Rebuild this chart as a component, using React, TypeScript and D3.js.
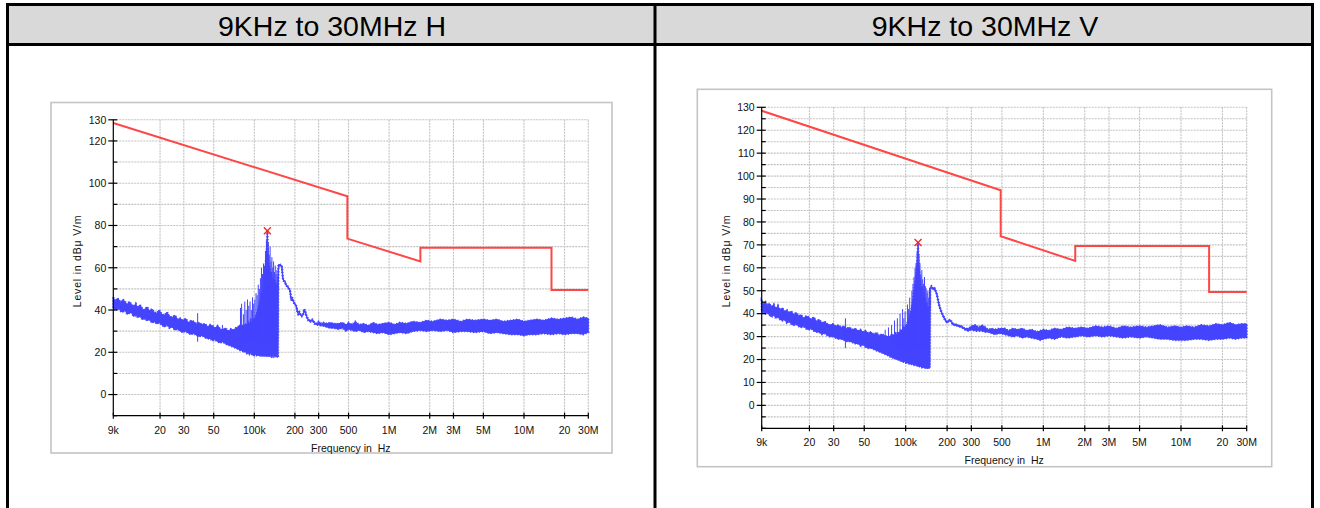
import React from 'react';
import * as d3 from 'd3';

// frequencies in kHz
const xTickKHz = [9, 20, 30, 50, 100, 200, 300, 500, 1000, 2000, 3000, 5000, 10000, 20000, 30000];
const xTickLabels = ['9k', '20', '30', '50', '100k', '200', '300', '500', '1M', '2M', '3M', '5M', '10M', '20', '30M'];

const limitKHz = [9, 490, 490, 1705, 1705, 16000, 16000, 30000];
const limitLevel = [128.5, 93.8, 73.8, 63, 69.5, 69.5, 49.5, 49.5];

const yLabelsH = [0, 20, 40, 60, 80, 100, 120, 130];
const yLabelsV = [0, 10, 20, 30, 40, 50, 60, 70, 80, 90, 100, 110, 120, 130];

const titles = ['9KHz to 30MHz H', '9KHz to 30MHz V'];

const peakH = [125, 77.5];
const peakV = [123, 71];

// [kHz, upper, lower] in dBuV/m
const traceH: [number, number, number][] = [
  [9, 46, 41], [9.3, 44, 40.5], [9.6, 45.5, 40], [9.9, 45, 41], [10.2, 43.5, 39.5],
  [10.6, 45, 39], [11, 44, 40], [11.4, 42.5, 38], [11.8, 44, 38.5], [12.2, 43, 39],
  [12.7, 41.5, 37], [13.2, 43, 37.5], [13.7, 41, 36.5], [14.2, 42.5, 37], [14.8, 40.5, 35.5],
  [15.4, 40, 36], [16, 41.5, 35], [16.7, 39.5, 35.5], [17.4, 40.5, 34], [18.1, 39, 34.5],
  [18.9, 38.5, 33.5], [19.7, 40, 34], [20.6, 38, 33], [21.5, 37.5, 32], [22.5, 39, 33],
  [23.5, 37, 31.5], [24.6, 36.5, 32], [25.8, 37.5, 30.5], [27, 35.5, 31], [28.3, 36, 30],
  [29.6, 35, 29.5], [31, 36, 30], [32.5, 34, 29], [34, 35, 28.5], [35.6, 34.5, 29],
  [37.3, 33.5, 28], [39, 34, 27.5], [41, 33, 28], [43, 33.5, 27], [45, 32, 26.5],
  [47, 33, 26.5], [49, 32.5, 25.5], [51, 31.5, 26], [53.5, 32.5, 25], [56, 31, 24.5],
  [58.5, 30.5, 25], [61, 31.5, 24], [64, 30, 23.5], [67, 31, 23], [70, 30.5, 22.5],
  [73, 31.5, 22], [76, 32, 21.5], [78, 33, 21], [80, 32, 21], [82, 33, 20.5],
  [84, 32, 20], [86, 33.5, 20.5], [88, 33, 19.5], [90, 34, 19.5], [92, 33, 19],
  [94, 35, 19.5], [96, 34, 19], [98, 36, 18.5], [100, 35, 18.5], [102, 37, 19],
  [104, 38, 18.5], [106, 40, 18.5], [108, 42, 18.5], [110, 44, 18.5], [112, 47, 18],
  [114, 46, 18.5], [116, 50, 18], [118, 52, 18.5], [120, 58, 18], [122, 64, 18.5],
  [124, 70, 18], [125, 77.5, 18.5], [126, 68, 18], [128, 62, 18.5], [130, 60, 18],
  [132, 56, 18.5], [134, 58, 18], [136, 54, 18.5], [138, 55, 18], [140, 52, 18.5],
  [142, 54, 18], [144, 51, 18], [146, 52, 18.5], [148, 50, 17.5], [150, 53, 18],
  [151, 61.5, 60.5], [155, 61.5, 61], [160, 61, 60.5], [163, 55, 54.5], [166, 54, 53.5],
  [169, 53.5, 53], [172, 52, 51.5], [176, 51.5, 51], [180, 50.5, 50], [184, 49.5, 49],
  [188, 45, 44.5], [192, 45.5, 45], [196, 44, 43.5], [200, 43, 42.5], [204, 42.5, 42],
  [208, 40, 39.5], [212, 38.5, 38], [216, 39, 38.5], [220, 38, 37.5], [225, 37.5, 37],
  [230, 38, 37.5], [235, 40.5, 40], [240, 39, 38.5], [245, 37, 36.5], [252, 35.5, 35],
  [260, 35, 34.5], [270, 35.5, 35], [280, 34, 33.5], [291, 33.5, 33], [300, 34.5, 33],
  [315, 33.5, 32.5], [327, 34, 32.5], [345, 33.5, 32], [365, 34, 31.5], [390, 33.5, 31.5],
  [420, 33.5, 31], [450, 34, 31.5], [480, 33, 30],
  [500, 34, 31], [530, 33, 30.5], [560, 34.5, 30], [600, 33, 30.5], [650, 33.5, 29.5],
  [700, 32.5, 30], [760, 34, 29.5], [820, 33, 29], [900, 33.5, 29.5], [1000, 34, 28.5],
  [1100, 33, 29], [1200, 34, 29.5], [1350, 33.5, 29], [1500, 34.5, 30], [1700, 34, 30.5],
  [1900, 35, 30], [2100, 34.5, 30.5], [2400, 35.5, 30], [2700, 35, 30.5], [3000, 35.5, 29.5],
  [3400, 34.5, 30], [3800, 35.5, 30], [4300, 35, 29.5], [5000, 35.5, 30], [5600, 35, 29],
  [6300, 35.5, 29.5], [7000, 34.5, 29], [8000, 35, 28.5], [9000, 35.5, 28.5], [10000, 34.5, 28],
  [11000, 35, 28.5], [12500, 35.5, 28.5], [14000, 35, 29], [16000, 36, 28.5], [18000, 35.5, 29],
  [20000, 36, 28.5], [22500, 36.5, 29], [25000, 35.5, 29], [27500, 36.5, 28.5], [30000, 36, 29.5],
];

// narrow peaks rising out of the band: [kHz, level]
const spikesH: [number, number][] = [
  [38, 38.5], [58, 33], [79, 41], [80.5, 43], [83, 38], [85, 44], [87, 40], [89, 45],
  [91, 42], [93, 44], [95, 40], [97, 46], [99, 43], [101, 45], [103, 48], [105, 47],
  [107, 52], [109, 50], [111, 55], [113, 60], [115, 57], [117, 62], [119, 61], [121, 68],
  [123, 73], [127, 72], [129, 66], [131, 70], [133, 63], [135, 65], [137, 60], [139, 63],
  [141, 58], [143, 61], [145, 57], [147, 59], [149, 56],
];

const traceV: [number, number, number][] = [
  [9, 45.5, 41], [9.3, 44, 40.5], [9.6, 45, 40], [9.9, 43.5, 40.5], [10.2, 44.5, 39.5],
  [10.6, 43, 38.5], [11, 44, 39.5], [11.4, 42, 38], [11.8, 43.5, 38.5], [12.2, 41.5, 37.5],
  [12.7, 42.5, 37], [13.2, 41, 37.5], [13.7, 41.5, 36], [14.2, 40.5, 36.5], [14.8, 41, 35.5],
  [15.4, 39.5, 35], [16, 40.5, 35.5], [16.7, 39, 34.5], [17.4, 39.5, 34], [18.1, 38, 34.5],
  [18.9, 39, 33.5], [19.7, 38.5, 33], [20.6, 37.5, 33.5], [21.5, 38.5, 32.5], [22.5, 36.5, 32],
  [23.5, 37.5, 32], [24.6, 36, 31], [25.8, 36.5, 31.5], [27, 35.5, 30.5], [28.3, 35, 30],
  [29.6, 35.5, 30], [31, 34.5, 29.5], [32.5, 35, 29], [34, 34, 29], [35.6, 34.5, 28.5],
  [37.3, 33.5, 28], [39, 34, 28], [41, 33, 27.5], [43, 33.5, 27], [45, 32.5, 27],
  [47, 33, 26], [49, 32, 26.5], [51, 32.5, 25.5], [53.5, 31.5, 25], [56, 32, 25],
  [58.5, 31, 24.5], [61, 31.5, 24], [64, 30.5, 23.5], [67, 31, 23], [70, 30.5, 22.5],
  [73, 30, 22], [76, 30, 21.5], [78, 30.5, 21], [80, 31, 21], [82, 30.5, 20.5],
  [84, 31.5, 20.5], [86, 31, 20], [88, 32, 20], [90, 31.5, 19.5], [92, 33, 19.5],
  [94, 32.5, 19], [96, 34, 19], [98, 33.5, 19], [100, 35, 18.5], [102, 35, 18.5],
  [104, 37, 18.5], [106, 38, 18], [108, 40, 18], [110, 42, 18], [112, 45, 18],
  [114, 48, 17.5], [116, 52, 17.5], [118, 55, 17.5], [120, 60, 17.5], [122, 65, 17],
  [123, 71, 17], [124, 64, 17], [126, 58, 17], [128, 54, 17], [130, 50, 16.5],
  [132, 52, 16.5], [134, 48, 16.5], [136, 46, 16.5], [138, 47, 16.5], [140, 44, 16],
  [142, 45, 16.5], [144, 42, 16], [146, 43, 16.5], [148, 40, 16], [150, 42, 17],
  [151, 51.5, 51], [154, 52, 51.5], [158, 51, 50.5], [162, 51.5, 51], [165, 50, 49.5],
  [168, 49, 48.5], [172, 46, 45.5], [175, 44, 43.5], [178, 42.5, 42], [182, 41, 40.5],
  [188, 39, 38.5], [194, 37.5, 37], [199, 36.5, 36], [204, 37, 36.5], [210, 37.5, 37],
  [216, 36.5, 36], [222, 35.5, 35], [228, 35.5, 35], [240, 35, 34.5], [256, 34.5, 34],
  [270, 33.5, 33], [285, 33.5, 32.5], [300, 34.5, 33], [320, 35, 32.5], [340, 34, 32.5],
  [358, 35, 32.5], [380, 34, 32], [399, 33, 32], [420, 33.5, 31.5], [446, 33, 31],
  [480, 33.5, 31.5],
  [526, 33.5, 31], [560, 32.5, 30.5], [600, 33.5, 30], [650, 33, 30.5], [700, 33.5, 29.5],
  [760, 32.5, 30], [820, 33, 29.5], [900, 32, 29], [950, 32.5, 28.5], [1000, 33, 29],
  [1100, 32.5, 29.5], [1200, 33.5, 29], [1350, 33, 30], [1500, 34, 29.5], [1700, 33.5, 30],
  [1900, 34, 30.5], [2100, 33.5, 30], [2400, 34.5, 30.5], [2700, 34, 30], [3000, 34.5, 30.5],
  [3400, 33.5, 30], [3800, 34.5, 29.5], [4300, 34, 30], [5000, 34.5, 29.5], [5600, 34, 30],
  [6300, 34.5, 29.5], [7000, 35, 29], [8000, 34, 29], [9000, 34.5, 28.5], [10000, 34, 28.5],
  [11000, 34.5, 28.5], [12500, 34, 29], [14000, 35, 29], [16000, 34.5, 28.5], [18000, 35.5, 29],
  [20000, 35, 29], [22500, 36, 29.5], [25000, 35, 29], [27500, 35.5, 29.5], [30000, 35.5, 29.5],
];

const spikesV: [number, number][] = [
  [36.5, 38], [62, 32], [71, 33], [75, 34], [79, 35], [83, 37], [87, 38], [91, 40],
  [95, 42], [97, 38], [99, 41], [103, 44], [105, 42], [107, 47], [111, 50], [113, 53],
  [115, 56], [117, 60], [119, 62], [121, 67], [125, 66], [127, 62], [129, 57], [131, 59],
  [133, 55], [135, 53], [137, 56], [139, 52], [141, 51], [143, 49], [145, 50], [147, 47],
  [149, 51],
];

const FONT = 'Arial, "Liberation Sans", sans-serif';
const BLUE = '#4444ff';
const RED = '#ff4646';

type Box = { left: number; right: number; top: number; bottom: number };

function Chart({ frame, plot, trace, spikes, peak, yStep, yLabels }: {
  frame: Box; plot: Box; trace: [number, number, number][]; spikes: [number, number][];
  peak: number[]; yStep: number; yLabels: number[];
}) {
  const x = d3.scaleLog().domain([9, 30000]).range([plot.left, plot.right]);
  const y = d3.scaleLinear().domain([-10, 130]).range([plot.bottom, plot.top]);
  const yTicks = d3.range(-10, 130.001, yStep);

  const band = d3.area<[number, number, number]>()
    .x(d => x(d[0]))
    .y0(d => y(d[2]))
    .y1(d => y(d[1]));
  const limit = d3.line<number>()
    .x((_, i) => x(limitKHz[i]))
    .y(d => y(d));

  const px = x(peak[0]);
  const py = y(peak[1]);

  return (
    <g>
      <rect x={frame.left} y={frame.top} width={frame.right - frame.left} height={frame.bottom - frame.top}
        fill="#fff" stroke="#c4c4c4" strokeWidth={1.6} />

      {yTicks.slice(1).map(t => (
        <line key={'gy' + t} x1={plot.left} x2={plot.right} y1={y(t)} y2={y(t)}
          stroke="#c2c2c2" strokeWidth={1.1} strokeDasharray="2 1" />
      ))}
      {xTickKHz.slice(1).map(f => (
        <line key={'gx' + f} x1={x(f)} x2={x(f)} y1={plot.top} y2={plot.bottom}
          stroke="#c2c2c2" strokeWidth={1.1} strokeDasharray="2 1" />
      ))}

      <path d={band(trace) || ''} fill={BLUE} stroke={BLUE} strokeWidth={1} strokeLinejoin="round" />
      <path d={band(trace) || ''} fill="none" stroke={BLUE} strokeWidth={2.2} strokeDasharray="1 2" />
      {spikes.map(s => (
        <line key={'sp' + s[0]} x1={x(s[0])} x2={x(s[0])} y1={y(25)} y2={y(s[1])}
          stroke={BLUE} strokeWidth={1} />
      ))}
      <path d={limit(limitLevel) || ''} fill="none" stroke={RED} strokeWidth={2} />

      <line x1={plot.left} x2={plot.left} y1={plot.top} y2={plot.bottom} stroke="#000" strokeWidth={1.2} />
      <line x1={plot.left} x2={plot.right} y1={plot.bottom} y2={plot.bottom} stroke="#000" strokeWidth={1.2} />

      {yTicks.map(t => {
        const labelled = yLabels.includes(t);
        return (
          <g key={'ty' + t}>
            <line x1={plot.left - (labelled ? 5 : 0)} x2={plot.left + 4} y1={y(t)} y2={y(t)}
              stroke="#000" strokeWidth={1.2} />
            {labelled && (
              <text x={plot.left - 7} y={y(t) + 3.8} textAnchor="end" fontSize={10.5}
                fontFamily={FONT} fill="#111">{t}</text>
            )}
          </g>
        );
      })}

      {xTickKHz.map((f, i) => (
        <g key={'tx' + f}>
          <line x1={x(f)} x2={x(f)} y1={plot.bottom - 3} y2={plot.bottom + 3} stroke="#000" strokeWidth={1.2} />
          <text x={x(f)} y={plot.bottom + 18} textAnchor="middle" fontSize={10.5}
            fontFamily={FONT} fill="#111">{xTickLabels[i]}</text>
        </g>
      ))}

      <text x={(plot.left + plot.right) / 2} y={plot.bottom + 36} textAnchor="middle" fontSize={10.5}
        fontFamily={FONT} fill="#111" xmlSpace="preserve">{'Frequency in  Hz'}</text>
      <text transform={`translate(${plot.left - 32},261) rotate(-90)`} textAnchor="middle"
        fontSize={10.5} letterSpacing={0.8} fontFamily={FONT} fill="#111">{'Level in dBμ V/m'}</text>

      <g stroke="#ff2020" strokeWidth={1.3}>
        <line x1={px - 3.5} x2={px + 3.5} y1={py - 3.5} y2={py + 3.5} />
        <line x1={px - 3.5} x2={px + 3.5} y1={py + 3.5} y2={py - 3.5} />
      </g>
    </g>
  );
}

export default function App() {
  return (
    <svg width={1320} height={508} style={{ position: 'absolute', left: 0, top: 0, background: '#fff' }}>
      <rect x={0} y={0} width={1320} height={508} fill="#fff" />
      <rect x={8} y={5} width={1304} height={39} fill="#d9d9d9" />
      <line x1={6} x2={1314} y1={4.5} y2={4.5} stroke="#000" strokeWidth={3} />
      <line x1={6} x2={1314} y1={44.5} y2={44.5} stroke="#000" strokeWidth={3} />
      <line x1={7.5} x2={7.5} y1={3} y2={508} stroke="#000" strokeWidth={3} />
      <line x1={655} x2={655} y1={3} y2={508} stroke="#000" strokeWidth={3} />
      <line x1={1312.5} x2={1312.5} y1={3} y2={508} stroke="#000" strokeWidth={3} />
      <text x={332} y={35.5} textAnchor="middle" fontSize={28.5} fontFamily={FONT} fill="#000">{titles[0]}</text>
      <text x={985} y={35.5} textAnchor="middle" fontSize={28.5} fontFamily={FONT} fill="#000">{titles[1]}</text>

      <Chart
        frame={{ left: 51, right: 612, top: 102.5, bottom: 453 }}
        plot={{ left: 113.3, right: 588.3, top: 119.8, bottom: 415.7 }}
        trace={traceH} spikes={spikesH} peak={peakH} yStep={10} yLabels={yLabelsH}
      />
      <Chart
        frame={{ left: 697.3, right: 1271.7, top: 89.3, bottom: 466.7 }}
        plot={{ left: 761.7, right: 1246.7, top: 107.3, bottom: 428.3 }}
        trace={traceV} spikes={spikesV} peak={peakV} yStep={5} yLabels={yLabelsV}
      />
    </svg>
  );
}
